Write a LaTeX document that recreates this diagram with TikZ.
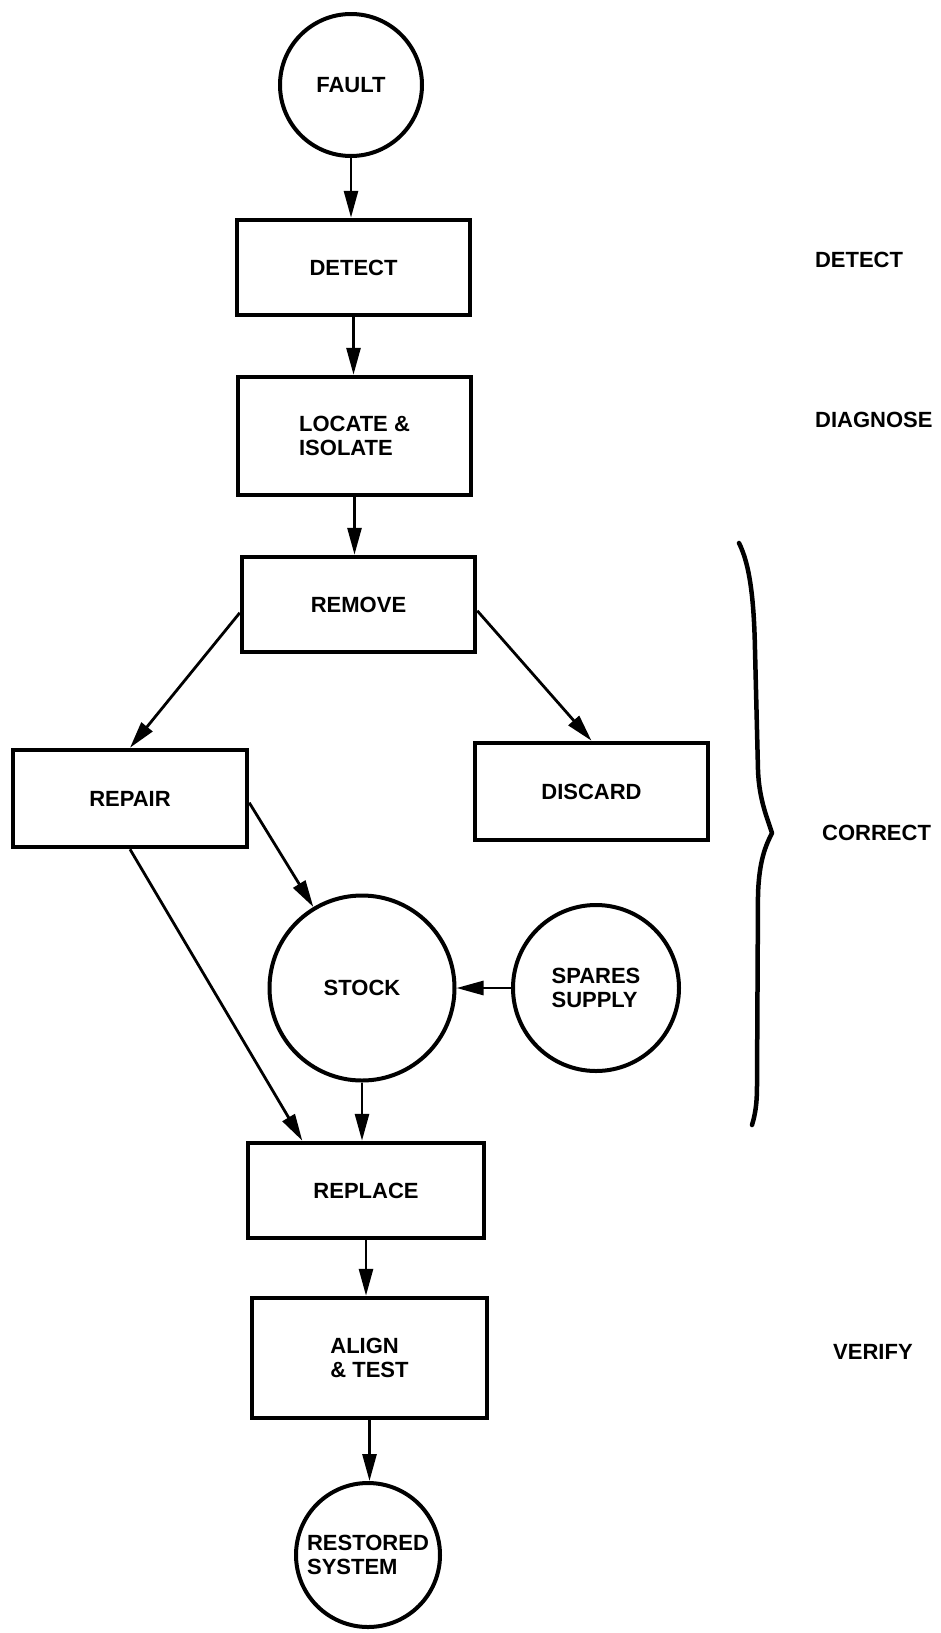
\documentclass[tikz,border=0pt]{standalone}
\usepackage{fontspec}
\setmainfont{Liberation Sans}
\usetikzlibrary{arrows.meta,calc}
\newcommand\nodefont{\fontsize{22}{24}\selectfont\bfseries}
\begin{document}
\begin{tikzpicture}[x=1pt,y=-1pt,
  box/.style={draw, line width=4.5pt, minimum width=233pt, minimum height=95pt, inner sep=0pt, font=\nodefont, align=left},
  circ/.style={draw, circle, line width=4pt, inner sep=0pt, font=\nodefont, align=left},
  lbl/.style={inner sep=0pt, font=\nodefont},
  arr/.style={line width=2.8pt, -{Triangle[length=27pt,width=14pt]}},
  bracepath/.style={line width=4.5pt, line cap=round, line join=round}]
\useasboundingbox (0,0) rectangle (941,1633);
\node[circ, minimum size=142pt] (fault) at (351,85) {FAULT};
\node[box] (detect) at (353.5,267.5) {DETECT};
\node[box, minimum height=118pt] (locate) at (354.5,436) {LOCATE \&\\ISOLATE};
\node[box] (remove) at (358.5,604.5) {REMOVE};
\node[box, minimum width=234pt, minimum height=97pt] (repair) at (130,798.5) {REPAIR};
\node[box, minimum height=97pt] (discard) at (591.5,791.5) {DISCARD};
\node[circ, minimum size=185pt] (stock) at (362,988) {STOCK};
\node[circ, minimum size=166pt] (spares) at (596,988) {SPARES\\SUPPLY};
\node[box, minimum width=236pt] (replace) at (366,1190.5) {REPLACE};
\node[box, minimum width=235pt, minimum height=120pt] (align) at (369.5,1358) {ALIGN\\\& TEST};
\node[circ, minimum size=144pt] (restored) at (368,1555) {RESTORED\\SYSTEM};
\node[lbl] (pdetect) at (859,260) {DETECT};
\node[lbl, anchor=west] (pdiag) at (815,420) {DIAGNOSE};
\node[lbl, anchor=west] (pcorrect) at (822,833) {CORRECT};
\node[lbl, anchor=west] (pverify) at (833,1352) {VERIFY};
\draw[arr] (fault.south) -- (fault.south |- detect.north);
\draw[arr] (detect.south) -- (detect.south |- locate.north);
\draw[arr] (locate.south) -- (locate.south |- remove.north);
\draw[arr] (remove.184) -- (repair.north);
\draw[arr] (remove.-3) -- (discard.north);
\draw[arr] (repair.-2) -- (stock.121);
\draw[arr] (repair.south) -- (replace.142);
\draw[arr] (spares.west) -- (stock.east);
\draw[arr] (stock.south) -- (stock.south |- replace.north);
\draw[arr] (replace.south) -- (replace.south |- align.north);
\draw[arr] (align.south) -- (align.south |- restored.north);
\coordinate (btop) at (739,543);
\coordinate (btip) at (772,833);
\coordinate (bbot) at (752,1125);
\draw[bracepath] (btop) .. controls (750,565) and (754,600) .. (755,650) -- (758,770) .. controls (759,800) and (768,820) .. (btip) .. controls (766,845) and (759,860) .. (758,895) -- (757,1085) .. controls (757,1105) and (755,1115) .. (bbot);
\end{tikzpicture}
\end{document}
